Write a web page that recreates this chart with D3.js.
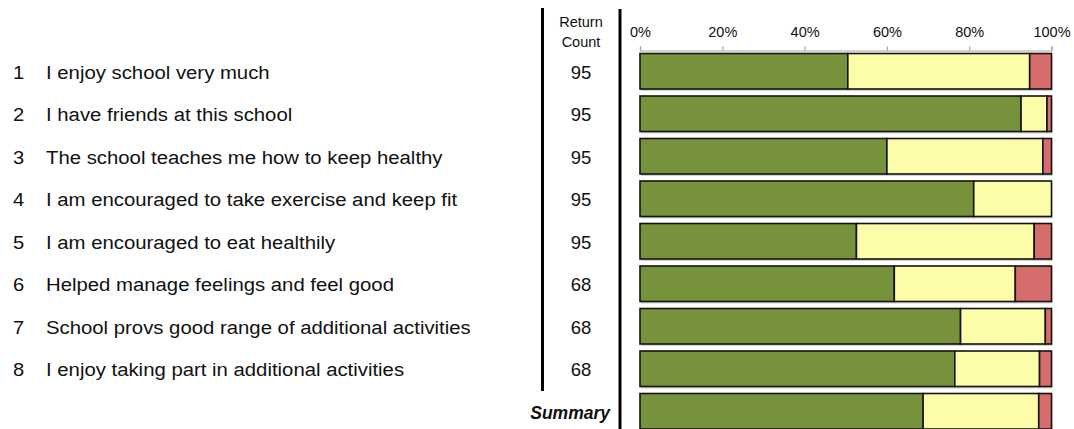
<!DOCTYPE html>
<html>
<head>
<meta charset="utf-8">
<script src="https://cdn.jsdelivr.net/npm/d3@7"></script>
<style>
  html, body { margin: 0; padding: 0; background: #fff; }
  svg { display: block; font-family: Arial, "Liberation Sans", sans-serif; }
</style>
</head>
<body>
<svg id="chart" width="1074" height="429"></svg>
<script>
// ---- data ----
const questions = [
  "I enjoy school very much",
  "I have friends at this school",
  "The school teaches me how to keep healthy",
  "I am encouraged to take exercise and keep fit",
  "I am encouraged to eat healthily",
  "Helped manage feelings and feel good",
  "School provs good range of additional activities",
  "I enjoy taking part in additional activities"
];
const returnCounts = [95, 95, 95, 95, 95, 68, 68, 68];
const rowKeys = ["1", "2", "3", "4", "5", "6", "7", "8", "Summary"];
// percentages per row (last = Summary)
const agree    = [50.5, 92.6, 60.0, 81.1, 52.6, 61.8, 77.9, 76.5, 68.8];
const neutral  = [44.2,  6.3, 37.9, 18.9, 43.2, 29.4, 20.6, 20.6, 28.1];
const disagree = [ 5.3,  1.1,  2.1,  0.0,  4.2,  8.8,  1.5,  2.9,  3.1];
const tickValues = [0, 20, 40, 60, 80, 100];
const tickLabels = ["0%", "20%", "40%", "60%", "80%", "100%"];
const seriesColors = ["#76933C", "#FCFCA9", "#D76C6C"];

// ---- drawing ----
const svg = d3.select("#chart");
const x = d3.scaleLinear().domain([0, 100]).range([640, 1051.5]);
const y = d3.scaleBand().domain(rowKeys).range([50, 432.5])
  .paddingInner(0.165).paddingOuter(0.0825);

const rows = rowKeys.map((k, i) => ({ key: k, vals: [agree[i], neutral[i], disagree[i]] }));

// axis
const axis = d3.axisTop(x).tickValues(tickValues)
  .tickFormat((d, i) => tickLabels[i]).tickSize(4).tickPadding(10);
const gAxis = svg.append("g").attr("transform", "translate(0,50.5)").call(axis);
gAxis.select(".domain").attr("stroke", "#a6a6a6").attr("stroke-width", 1.2);
gAxis.selectAll(".tick line").attr("stroke", "#a6a6a6").attr("stroke-width", 1.2);
gAxis.selectAll(".tick text").attr("fill", "#111").attr("font-size", 14.5)
  .attr("font-family", "Arial, 'Liberation Sans', sans-serif");

// bars
rows.forEach(r => {
  let acc = 0;
  const segs = r.vals.map((v, j) => { const s = { x0: acc, x1: acc + v, c: seriesColors[j] }; acc += v; return s; })
    .filter(s => s.x1 - s.x0 > 0);
  const g = svg.append("g");
  // subtle shadow
  g.append("rect")
    .attr("x", x(0) + 1).attr("y", y(r.key) + 2)
    .attr("width", x(100) - x(0)).attr("height", y.bandwidth())
    .attr("fill", "#d0d0d0");
  g.selectAll("rect.seg").data(segs).enter().append("rect")
    .attr("class", "seg")
    .attr("x", d => x(d.x0)).attr("y", y(r.key))
    .attr("width", d => x(d.x1) - x(d.x0)).attr("height", y.bandwidth())
    .attr("fill", d => d.c).attr("stroke", "#141414").attr("stroke-width", 1.6);
});

// separator lines
svg.append("line").attr("x1", 542.5).attr("x2", 542.5).attr("y1", 8).attr("y2", 391)
  .attr("stroke", "#000").attr("stroke-width", 3);
svg.append("line").attr("x1", 620).attr("x2", 620).attr("y1", 9).attr("y2", 429)
  .attr("stroke", "#000").attr("stroke-width", 3);

// header
svg.append("text").attr("x", 581).attr("y", 26.5).attr("text-anchor", "middle")
  .attr("font-size", 14.5).attr("fill", "#111").text("Return");
svg.append("text").attr("x", 581).attr("y", 46.5).attr("text-anchor", "middle")
  .attr("font-size", 14.5).attr("fill", "#111").text("Count");

// row labels
questions.forEach((q, i) => {
  const cy = y(rowKeys[i]) + y.bandwidth() / 2 + 7.3;
  svg.append("text").attr("transform", `translate(13,${cy}) scale(1.12,1)`)
    .attr("font-size", 18).attr("fill", "#111").text(rowKeys[i]);
  svg.append("text").attr("transform", `translate(46,${cy}) scale(1.13,1)`)
    .attr("font-size", 18).attr("fill", "#111").text(q);
  svg.append("text").attr("x", 581).attr("y", cy).attr("text-anchor", "middle")
    .attr("font-size", 18.5).attr("fill", "#111").text(returnCounts[i]);
});

svg.append("text").attr("x", 610).attr("y", y("Summary") + y.bandwidth() / 2 + 7.3)
  .attr("text-anchor", "end").attr("font-size", 17.5).attr("font-weight", "bold")
  .attr("font-style", "italic").attr("fill", "#111").text("Summary");
</script>
</body>
</html>
